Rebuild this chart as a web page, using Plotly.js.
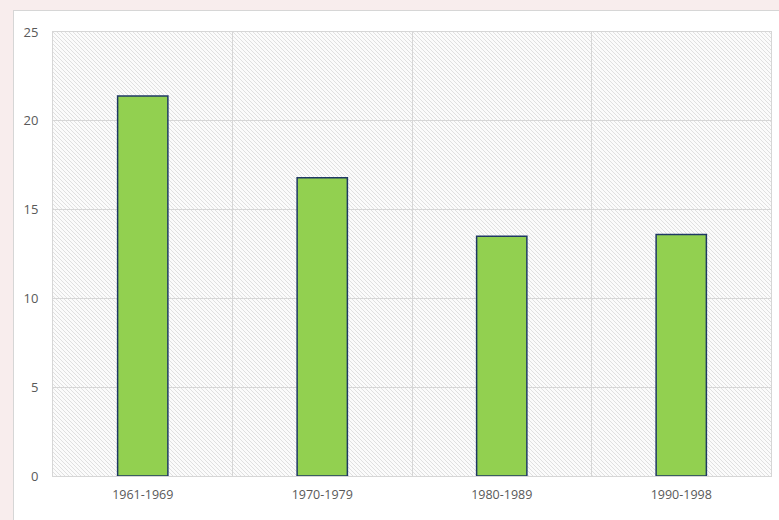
<!DOCTYPE html>
<html>
<head>
<meta charset="utf-8">
<script src="https://cdn.plot.ly/plotly-3.0.1.min.js"></script>
<style>
  html, body { margin: 0; padding: 0; width: 779px; height: 520px; overflow: hidden; background: #f8eded; }
  #box { position: absolute; left: 13px; top: 10px; width: 780px; height: 520px; background: #ffffff; border: 1px solid #d6d6d6; box-sizing: border-box; }
  #chart { position: absolute; left: 0; top: 0; width: 779px; height: 520px; }
</style>
</head>
<body>
<div id="box"></div>
<div id="chart"></div>
<script>
const categories = ["1961-1969", "1970-1979", "1980-1989", "1990-1998"];
const values = [21.4, 16.8, 13.5, 13.6];
const yTicks = [0, 5, 10, 15, 20, 25];

const hatch = 'data:image/svg+xml;utf8,' + encodeURIComponent(
  '<svg xmlns="http://www.w3.org/2000/svg" width="718" height="444">' +
  '<defs><pattern id="p" width="4" height="4" patternUnits="userSpaceOnUse">' +
  '<rect width="4" height="4" fill="#fbfbfb"/>' +
  '<path d="M-1,-1 L5,5 M-1,3 L1,5 M3,-1 L5,1" stroke="#e0e0e0" stroke-width="1"/>' +
  '</pattern></defs><rect width="718" height="444" fill="url(#p)"/></svg>');

const trace = {
  type: 'bar',
  x: categories,
  y: values,
  width: 0.28,
  marker: { color: '#92d050', line: { color: '#1f3864', width: 1.5 } },
  hoverinfo: 'x+y'
};

const layout = {
  width: 779, height: 520,
  margin: { l: 53, r: 8, t: 32, b: 44 },
  paper_bgcolor: 'rgba(0,0,0,0)',
  plot_bgcolor: 'rgba(0,0,0,0)',
  showlegend: false,
  font: { family: '"Open Sans", sans-serif', size: 12, color: '#595959' },
  xaxis: {
    type: 'category',
    range: [-0.5, 3.5],
    tickson: 'boundaries',
    showgrid: true, gridcolor: '#d6d6d6', gridwidth: 1,
    ticks: '', showline: true, linecolor: '#d6d6d6', linewidth: 1, mirror: true,
    tickfont: { size: 12.5, color: '#595959' },
    ticklabelstandoff: 7,
    zeroline: false
  },
  yaxis: {
    range: [0, 25],
    tickvals: yTicks,
    ticktext: yTicks.map(String),
    showgrid: true, gridcolor: '#d6d6d6', gridwidth: 1,
    showline: true, linecolor: '#d6d6d6', linewidth: 1, mirror: true,
    ticks: '', ticklabelstandoff: 11,
    tickfont: { size: 13, color: '#595959' },
    zeroline: false
  },
  images: [{
    source: hatch, xref: 'paper', yref: 'paper', x: 0, y: 1,
    sizex: 1, sizey: 1, sizing: 'stretch', layer: 'below',
    xanchor: 'left', yanchor: 'top'
  }],
  bargap: 0.72
};

Plotly.newPlot('chart', [trace], layout, { displayModeBar: false, staticPlot: true });
</script>
</body>
</html>
